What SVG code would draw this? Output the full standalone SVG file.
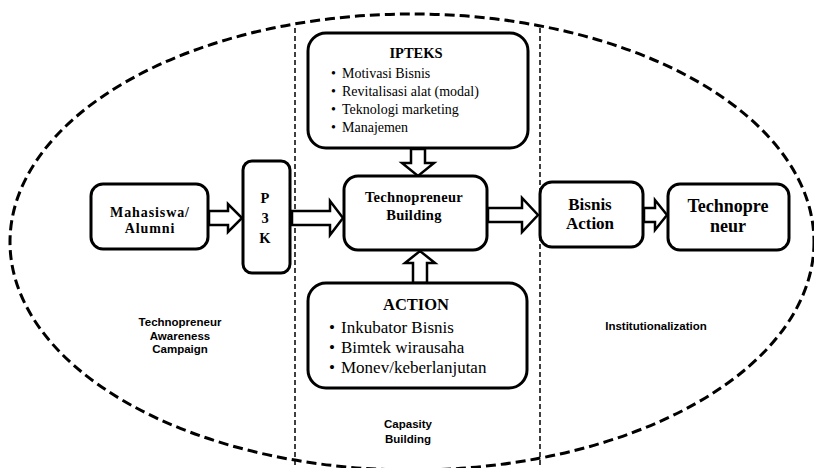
<svg xmlns="http://www.w3.org/2000/svg" width="814" height="468" viewBox="0 0 814 468">
<style>
.box{fill:#fff;stroke:#000;stroke-width:3}
.arr{fill:#fff;stroke:#000;stroke-width:2.5;stroke-linejoin:miter}
.t{font-family:"Liberation Serif","Times New Roman",serif;fill:#000}
.b{font-weight:bold}
.s{font-family:"Liberation Sans",Arial,sans-serif;font-weight:bold;font-size:11.5px;fill:#000}
</style>
<rect width="814" height="468" fill="#fff"/>
<g id="frame">
<ellipse cx="412" cy="242" rx="402" ry="228" fill="none" stroke="#000" stroke-width="3" stroke-dasharray="10 5"/>
<line x1="295" y1="28" x2="295" y2="468" stroke="#000" stroke-width="1.5" stroke-dasharray="5 3"/>
<line x1="540" y1="28" x2="540" y2="468" stroke="#000" stroke-width="1.5" stroke-dasharray="5 3"/>
</g>
<g id="connectors">
<polygon class="arr" points="209,211 228,211 228,204 242,218 228,232 228,225 209,225"/>
<polygon class="arr" points="292,211 330,211 330,201 343,218 330,235 330,225 292,225"/>
<polygon class="arr" points="488,208 522,208 522,198 538,215 522,232 522,222 488,222"/>
<polygon class="arr" points="644,208 655,208 655,200 667,215 655,230 655,222 644,222"/>
<polygon class="arr" points="411,149 411,163 402,163 418,176 434,163 425,163 425,149"/>
<polygon class="arr" points="413,283 413,263 405,263 420,251 435,263 427,263 427,283"/>
</g>
<g id="ipteks">
<rect class="box" x="308" y="33" width="220" height="115" rx="18"/>
<text class="t b" x="416" y="58" font-size="14.5" text-anchor="middle">IPTEKS</text>
<g class="t" font-size="14">
<text x="331" y="78">•</text><text x="342" y="78">Motivasi Bisnis</text>
<text x="331" y="96">•</text><text x="342" y="96">Revitalisasi alat (modal)</text>
<text x="331" y="114">•</text><text x="342" y="114">Teknologi marketing</text>
<text x="331" y="132">•</text><text x="342" y="132">Manajemen</text>
</g>
</g>
<g id="technopreneur-building">
<rect class="box" x="344" y="176" width="143" height="74" rx="14"/>
<text class="t b" x="414" y="202" font-size="14.5" letter-spacing="0.3" text-anchor="middle">Technopreneur</text>
<text class="t b" x="414" y="220" font-size="14.5" letter-spacing="0.3" text-anchor="middle">Building</text>
</g>
<g id="action">
<rect class="box" x="308" y="283" width="219" height="105" rx="18"/>
<text class="t b" x="416" y="310" font-size="16.5" text-anchor="middle">ACTION</text>
<g class="t" font-size="17">
<text x="329" y="333">•</text><text x="341" y="333">Inkubator Bisnis</text>
<text x="329" y="353">•</text><text x="341" y="353">Bimtek wirausaha</text>
<text x="329" y="373">•</text><text x="341" y="373">Monev/keberlanjutan</text>
</g>
</g>
<g id="mahasiswa">
<rect class="box" x="91" y="184" width="117" height="65" rx="12"/>
<text class="t b" x="150" y="217" font-size="14" letter-spacing="0.9" text-anchor="middle">Mahasiswa/</text>
<text class="t b" x="150" y="233" font-size="14" letter-spacing="0.9" text-anchor="middle">Alumni</text>
</g>
<g id="p3k">
<rect class="box" x="243" y="161" width="47" height="112" rx="9"/>
<text class="t b" x="265" y="203" font-size="14.5" text-anchor="middle">P</text>
<text class="t b" x="265" y="223" font-size="14.5" text-anchor="middle">3</text>
<text class="t b" x="265" y="243" font-size="14.5" text-anchor="middle">K</text>
</g>
<g id="bisnis-action">
<rect class="box" x="540" y="182" width="103" height="65" rx="12"/>
<text class="t b" x="590" y="210" font-size="17" text-anchor="middle">Bisnis</text>
<text class="t b" x="590" y="229" font-size="17" text-anchor="middle">Action</text>
</g>
<g id="technopreneur">
<rect class="box" x="668" y="184" width="121" height="66" rx="12"/>
<text class="t b" x="728" y="212" font-size="18" text-anchor="middle">Technopre</text>
<text class="t b" x="728" y="232" font-size="18" text-anchor="middle">neur</text>
</g>
<g id="labels">
<text class="s" x="180" y="326" text-anchor="middle">Technopreneur</text>
<text class="s" x="180" y="339.5" text-anchor="middle">Awareness</text>
<text class="s" x="180" y="353" text-anchor="middle">Campaign</text>
<text class="s" x="656" y="330" text-anchor="middle">Institutionalization</text>
<text class="s" x="408" y="428" text-anchor="middle">Capasity</text>
<text class="s" x="408" y="443" text-anchor="middle">Building</text>
</g>
</svg>
